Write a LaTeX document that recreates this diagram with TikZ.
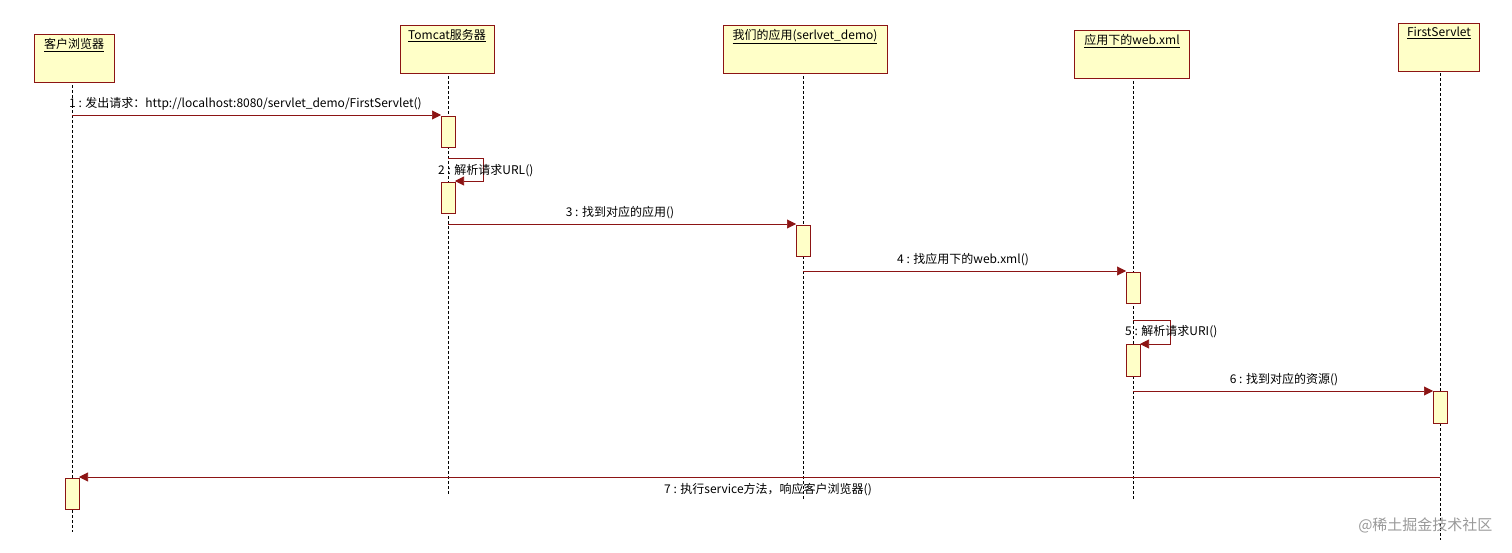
\documentclass[tikz,border=0pt]{standalone}
\usepackage{fontspec}
\setmainfont{Noto Sans CJK SC}
\usetikzlibrary{arrows.meta}
\definecolor{umlline}{RGB}{140,20,20}
\definecolor{umlfill}{RGB}{255,255,200}
\tikzset{
  actor/.style={draw=umlline,fill=umlfill,anchor=north,inner xsep=3pt,inner ysep=4pt,text depth=30pt,font=\fontsize{12}{14}\selectfont},
  life/.style={densely dashed,thin,black},
  act/.style={draw=umlline,fill=umlfill,thick},
  msg/.style={draw=umlline,semithick,-{Triangle[length=9pt,width=9pt]}},
  lbl/.style={font=\fontsize{12}{14}\selectfont,inner sep=1pt}
}
\begin{document}
\begin{tikzpicture}[x=1pt,y=-1pt]
	\useasboundingbox (0,0) rectangle (1512,552);
	% Draw lifelines and heads
	\draw[life] (72,80) -- (72,532);
	\draw[life] (448,71) -- (448,495);
	\draw[life] (803,71) -- (803,500);
	\draw[life] (1133,76) -- (1133,500);
	\draw[life] (1440,68) -- (1440,540);
	\node[actor,minimum width=80pt] (client) at (74,34) {\underline{客户浏览器}};
	\node[actor,minimum width=94pt] (tomcat) at (447,25) {\underline{Tomcat服务器}};
	\node[actor,minimum width=164pt] (app) at (805,25) {\underline{我们的应用(serlvet\_demo)}};
	\node[actor,minimum width=115pt] (webxml) at (1132,30) {\underline{应用下的web.xml}};
	\node[actor,minimum width=81pt] (servlet) at (1439,23) {\underline{FirstServlet}};
	% Draw activation bars
	\draw[act] (441,116) rectangle (455,147);
	\draw[act] (441,182) rectangle (455,213);
	\draw[act] (796,225) rectangle (810,256);
	\draw[act] (1126,272) rectangle (1140,303);
	\draw[act] (1126,344) rectangle (1140,376);
	\draw[act] (1433,391) rectangle (1447,423);
	\draw[act] (65,478) rectangle (79,509);
	% Draw messages
	\coordinate (m1a) at (72,115); \coordinate (m1b) at (441,115);
	\draw[msg] (m1a) -- (m1b);
	\node[lbl,anchor=south west] (l1) at (68,111) {1 : 发出请求：http://localhost:8080/servlet\_demo/FirstServlet()};
	\draw[msg] (448,158) -- (483,158) -- (483,181) -- (455,181);
	\node[lbl,anchor=west] (l2) at (437,171) {2 : 解析请求URL()};
	\draw[msg] (448,224) -- (796,224);
	\node[lbl,anchor=south] (l3) at (620,220) {3 : 找到对应的应用()};
	\draw[msg] (803,271) -- (1126,271);
	\node[lbl,anchor=south] (l4) at (963,267) {4 : 找应用下的web.xml()};
	\draw[msg] (1133,320) -- (1170,320) -- (1170,344) -- (1140,344);
	\node[lbl,anchor=west] (l5) at (1124,332) {5 : 解析请求URI()};
	\draw[msg] (1133,391) -- (1433,391);
	\node[lbl,anchor=south] (l6) at (1284,387) {6 : 找到对应的资源()};
	\draw[msg] (1440,477) -- (79,477);
	\node[lbl,anchor=north] (l7) at (768,482) {7 : 执行service方法，响应客户浏览器()};
	% Watermark
	\node[font=\fontsize{15}{17}\selectfont,text=black!40,anchor=east] (mark) at (1496,525) {@稀土掘金技术社区};
\end{tikzpicture}
\end{document}
